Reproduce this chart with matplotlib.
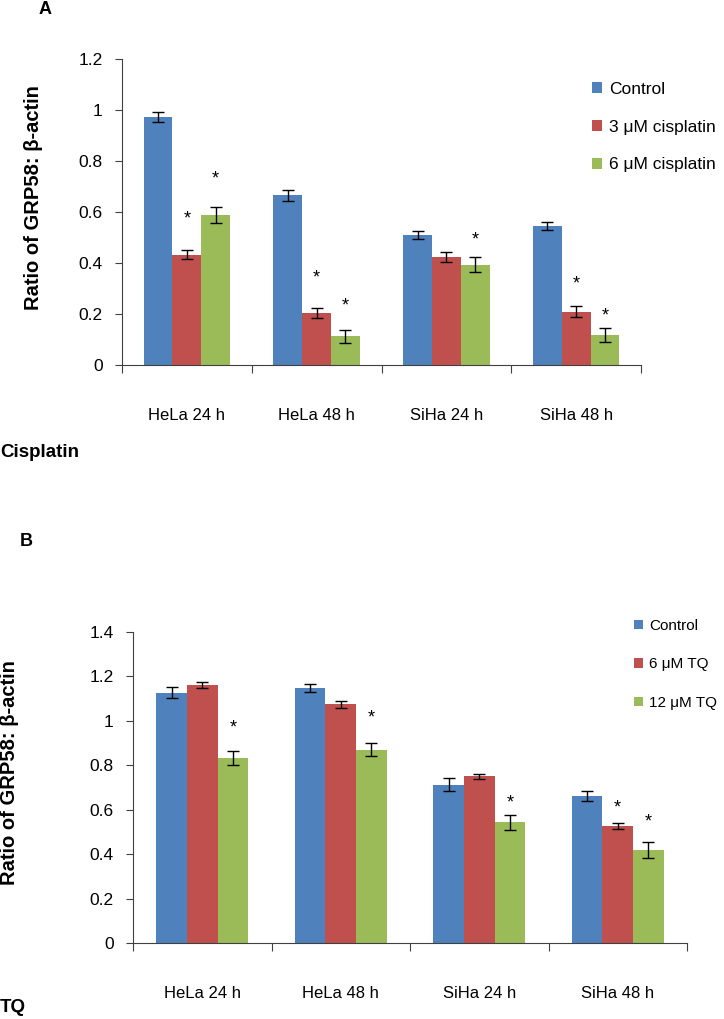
import numpy as np
import matplotlib
matplotlib.use("Agg")
import matplotlib.pyplot as plt

plt.rcParams['font.family'] = ['Liberation Sans', 'DejaVu Sans']

# Data
groups = ["HeLa 24 h", "HeLa 48 h", "SiHa 24 h", "SiHa 48 h"]

# Panel A - cisplatin
labels_a = ["Control", "3 μM cisplatin", "6 μM cisplatin"]
vals_a = [
    [0.973, 0.665, 0.511, 0.545],   # Control
    [0.433, 0.203, 0.425, 0.209],   # 3 uM
    [0.588, 0.112, 0.394, 0.119],   # 6 uM
]
err_a = [
    [0.020, 0.020, 0.015, 0.014],
    [0.018, 0.020, 0.020, 0.022],
    [0.032, 0.024, 0.030, 0.028],
]
# significance stars: (series, group, height)
stars_a = [(1, 0, 0.571), (2, 0, 0.730), (1, 1, 0.340), (2, 1, 0.230),
           (2, 2, 0.490), (1, 3, 0.317), (2, 3, 0.193)]

# Panel B - TQ
labels_b = ["Control", "6 μM TQ", "12 μM TQ"]
vals_b = [
    [1.127, 1.148, 0.713, 0.662],
    [1.160, 1.074, 0.750, 0.526],
    [0.834, 0.871, 0.543, 0.419],
]
err_b = [
    [0.025, 0.020, 0.028, 0.022],
    [0.013, 0.017, 0.013, 0.013],
    [0.031, 0.031, 0.034, 0.037],
]
stars_b = [(2, 0, 0.966), (2, 1, 1.014), (2, 2, 0.632),
           (1, 3, 0.606), (2, 3, 0.543)]

colors = ["#4F81BD", "#C0504D", "#9BBB59"]
W, H = 724, 1019


def draw_panel(ax, vals, errs, labels, stars, ymax, yticklabels, legend_xy,
               legend_size, legend_spacing):
    x = np.arange(len(groups))
    bw = 0.222
    for i, (v, e) in enumerate(zip(vals, errs)):
        pos = x + (i - 1) * bw
        ax.bar(pos, v, width=bw, color=colors[i], label=labels[i], zorder=2)
        ax.errorbar(pos, v, yerr=e, fmt='none', ecolor='black',
                    elinewidth=1, capsize=4, capthick=1, zorder=3)
    for s, g, h in stars:
        ax.text(x[g] + (s - 1) * bw, h, "*", ha='center', va='center',
                fontsize=13)
    ax.set_xlim(-0.5, len(groups) - 0.5)
    ax.set_ylim(0, ymax)
    yt = np.arange(0, ymax + 0.001, 0.2)
    ax.set_yticks(yt)
    ax.set_yticklabels(yticklabels, fontsize=12.5)
    ax.set_xticks(np.arange(len(groups) + 1) - 0.5)
    ax.set_xticklabels([])
    ax.set_xticks(x, minor=True)
    ax.set_xticklabels(groups, minor=True, fontsize=12)
    ax.tick_params(axis='x', which='major', direction='out', length=6,
                   color='#404040')
    ax.tick_params(axis='x', which='minor', length=0, pad=31)
    ax.tick_params(axis='y', direction='out', length=5, color='#404040',
                   pad=9)
    for sp in ['top', 'right']:
        ax.spines[sp].set_visible(False)
    for sp in ['left', 'bottom']:
        ax.spines[sp].set_color('#404040')
    ax.set_ylabel("Ratio of GRP58: β-actin", fontsize=14.5,
                  fontweight='bold')
    ax.legend(loc='upper left', bbox_to_anchor=legend_xy,
              bbox_transform=fig.transFigure, frameon=False,
              fontsize=legend_size,
              handlelength=0.6, handleheight=0.6, handletextpad=0.4,
              labelspacing=legend_spacing, borderpad=0, borderaxespad=0)


fig = plt.figure(figsize=(W / 100, H / 100), dpi=100)

ax_a = fig.add_axes([122 / W, 1 - 365 / H, (641 - 122) / W, (365 - 59) / H])
draw_panel(ax_a, vals_a, err_a, labels_a, stars_a, 1.2,
           ["0", "0.2", "0.4", "0.6", "0.8", "1", "1.2"],
           (592 / W, 1 - 82 / H), 12.5, 1.3)
ax_a.yaxis.set_label_coords(43 / W, 1 - 198 / H, transform=fig.transFigure)

ax_b = fig.add_axes([133 / W, 1 - 943 / H, (687 - 133) / W, (943 - 632) / H])
draw_panel(ax_b, vals_b, err_b, labels_b, stars_b, 1.4,
           ["0", "0.2", "0.4", "0.6", "0.8", "1", "1.2", "1.4"],
           (634 / W, 1 - 619 / H), 11, 1.6)
ax_b.yaxis.set_label_coords(19 / W, 1 - 773 / H, transform=fig.transFigure)

fig.text(45 / W, 1 - 10 / H, "A", fontsize=13, fontweight='bold',
         ha='center', va='center')
fig.text(26 / W, 1 - 541 / H, "B", fontsize=13, fontweight='bold',
         ha='center', va='center')
fig.text(0, 1 - 452 / H, "Cisplatin", fontsize=13.5, fontweight='bold',
         ha='left', va='center')
fig.text(0, 1 - 1008 / H, "TQ", fontsize=13.5, fontweight='bold',
         ha='left', va='center')

fig.savefig("out.png", dpi=100)
